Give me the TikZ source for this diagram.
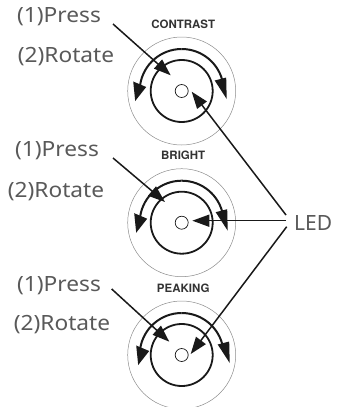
\documentclass[tikz,border=0pt]{standalone}
\usepackage{fontspec}
\setmainfont{Noto Sans}
\newfontfamily\knobfont{TeX Gyre Heros}[BoldFont=* Bold]
\usetikzlibrary{arrows.meta}
\tikzset{
  outerring/.style={circle,draw=black!45,line width=.5pt,minimum size=108pt,inner sep=0pt},
  innerring/.style={circle,draw=black!90,line width=1.8pt,minimum size=62pt,inner sep=0pt},
  ledring/.style={circle,draw=black!90,line width=.7pt,minimum size=13pt,inner sep=0pt},
  rotarc/.style={draw=black!90,line width=2pt},
  head/.style={fill=black!90,draw=none},
  leader/.style={draw=black!90,line width=1.5pt,-{Triangle[length=17pt,width=12pt]},shorten >=0pt},
  caption/.style={font=\fontsize{21}{23}\selectfont,text=black!65,inner sep=0pt,transform shape,xscale=1.08},
  ledcaption/.style={font=\fontsize{21}{23}\selectfont,text=black!65,inner sep=0pt},
  knoblabel/.style={font=\knobfont\bfseries\fontsize{11.5}{12}\selectfont,text=black!80,inner sep=0pt}
}
\newcommand{\knobunit}[5]{% prefix, y, label, left dx, right dx
  \begin{scope}[shift={(181.7,#2)}]
    \node[outerring] (#1outer) at (0,0) {};
    \node[innerring] (#1inner) at (0,0) {};
    \node[ledring] (#1led) at (0,0) {};
    \draw[rotarc] (0,-42) arc[start angle=-90,end angle=-172,radius=42];
    \draw[rotarc] (0,-42) arc[start angle=-90,end angle=-10,radius=42];
    \fill[head] (-46.5+#4,10)--(-48.5+#4,-9.5)--(-35.5+#4,-4)--cycle;
    \fill[head] (45+#5,8)--(33+#5,-10.5)--(44.5+#5,-13.5)--cycle;
    \node[knoblabel] (#1name) at (1.5,-67) {#3};
  \end{scope}
}
\begin{document}
\begin{tikzpicture}[x=1pt,y=-1pt]
\useasboundingbox (0,0) rectangle (337,407);
\knobunit{a}{91}{CONTRAST}{0}{0}
\knobunit{b}{222.7}{BRIGHT}{1}{1}
\knobunit{c}{355}{PEAKING}{3}{3}
\node[caption] (p1) at (59,17) {(1)Press};
\node[caption] (r1) at (66,57) {(2)Rotate};
\node[caption] (p2) at (57,151) {(1)Press};
\node[caption] (r2) at (56,192) {(2)Rotate};
\node[caption] (p3) at (59,286) {(1)Press};
\node[caption] (r3) at (62,325) {(2)Rotate};
\node[ledcaption,anchor=west] (led) at (294,223) {LED};
\coordinate (s1) at (113,24);
\coordinate (t1) at (170.7,75.3);
\coordinate (s2) at (113,158);
\coordinate (t2) at (165,202);
\coordinate (s3) at (111.7,289);
\coordinate (t3) at (169.3,341.7);
\coordinate (la) at (286,215);
\coordinate (lb) at (286,220.7);
\coordinate (lc) at (286.7,226.7);
\coordinate (ea) at (191.7,91.7);
\coordinate (eb) at (192.3,220.7);
\coordinate (ec) at (190.7,354);
\draw[leader] (s1)--(t1);
\draw[leader] (s2)--(t2);
\draw[leader] (s3)--(t3);
\draw[leader] (la)--(ea);
\draw[leader] (lb)--(eb);
\draw[leader] (lc)--(ec);
\end{tikzpicture}
\end{document}
